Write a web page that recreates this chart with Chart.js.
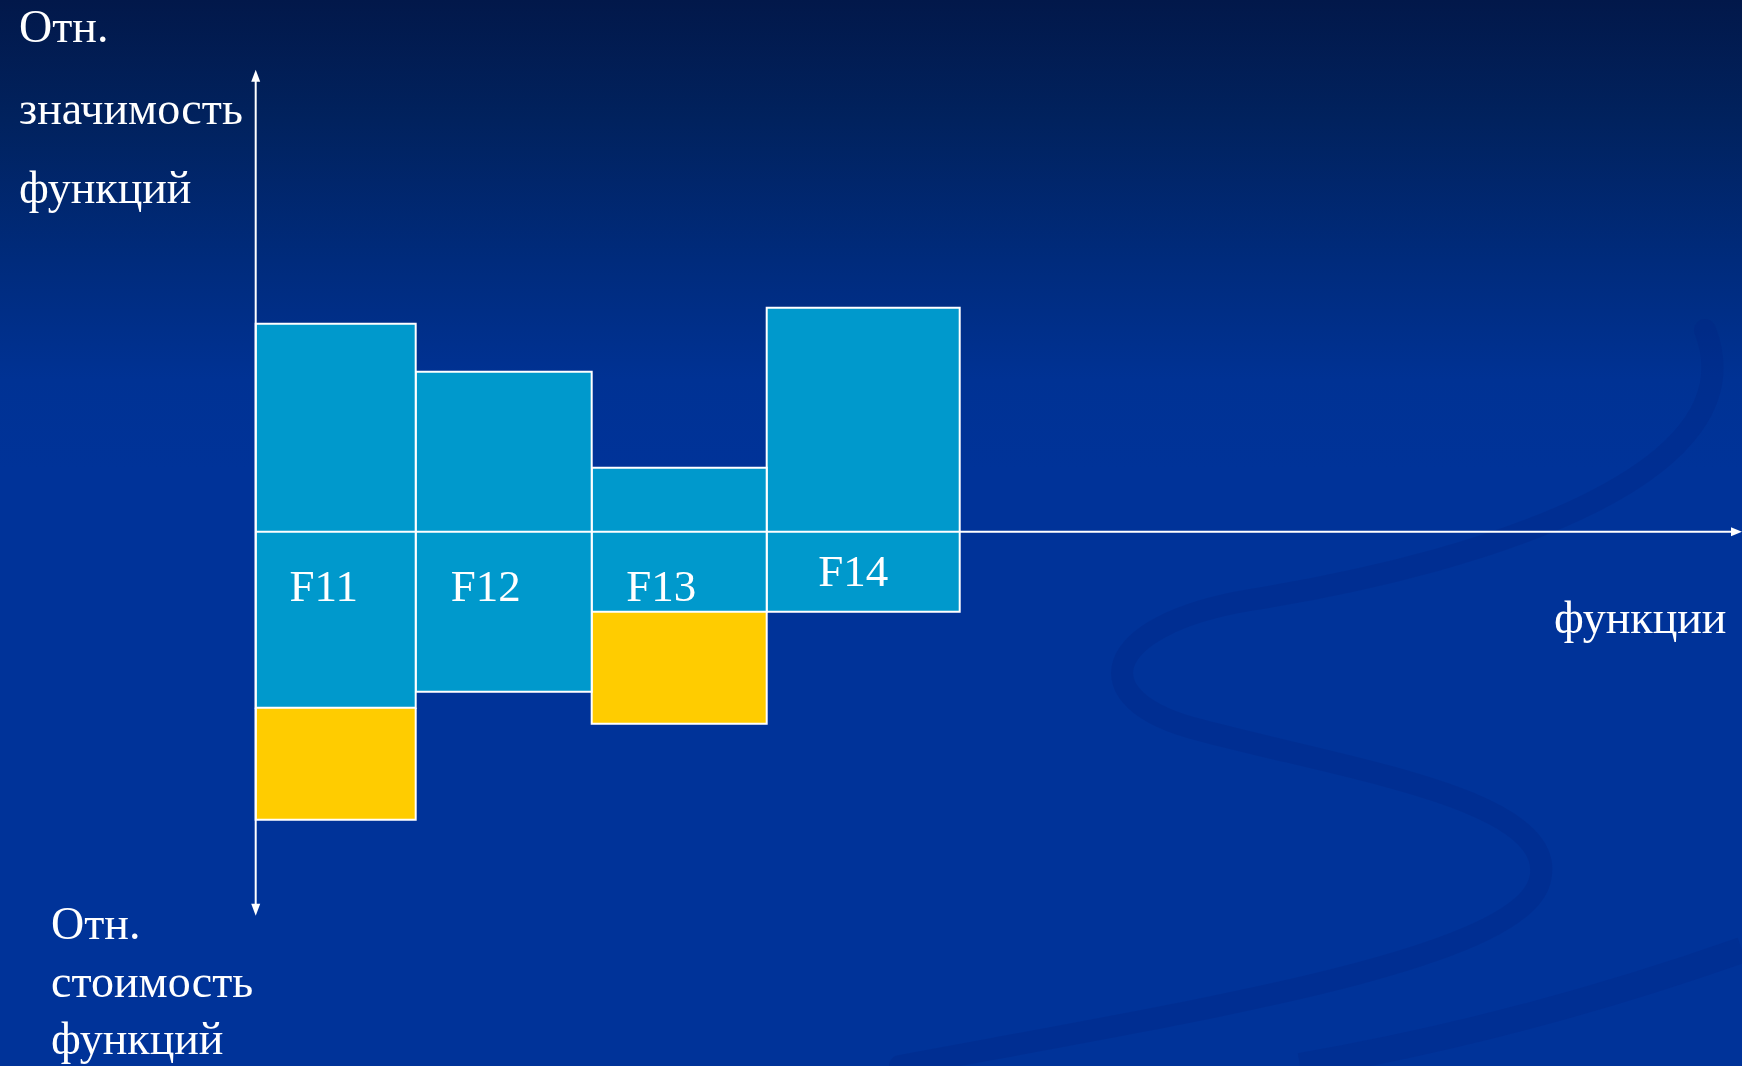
<!DOCTYPE html>
<html lang="ru">
<head>
<meta charset="utf-8">
<title>Функционально-стоимостная диаграмма</title>
<script src="https://cdn.jsdelivr.net/npm/chart.js@4.4.1/dist/chart.umd.min.js"></script>
<style>
  html, body { margin: 0; padding: 0; }
  body {
    width: 1742px; height: 1066px; overflow: hidden; position: relative;
    background: linear-gradient(to bottom, #02184a 0px, #01225e 120px, #002b7c 260px, #003294 380px, #003399 470px, #003399 1066px);
    font-family: "Liberation Serif", "DejaVu Serif", serif;
  }
  #swoosh { position: absolute; left: 0; top: 0; }
  #chart { position: absolute; left: 0; top: 0; }
  .lbl {
    position: absolute; color: #ffffff; font-size: 46px; line-height: 46px;
    white-space: nowrap; font-family: "Liberation Serif", "DejaVu Serif", serif;
  }
</style>
</head>
<body>
<svg id="swoosh" width="1742" height="1066" viewBox="0 0 1742 1066">
  <path d="M1705,330 C1760,470 1500,560 1250,600 C1100,625 1080,700 1200,730 C1350,770 1560,800 1540,880 C1520,960 1200,1010 900,1066"
        fill="none" stroke="rgba(0,35,130,0.28)" stroke-width="22" stroke-linecap="round"/>
  <path d="M1742,950 C1600,1000 1450,1040 1300,1066" fill="none" stroke="rgba(0,35,130,0.25)" stroke-width="26"/>
</svg>
<canvas id="chart" width="1742" height="1066"></canvas>

<div class="lbl" id="t1" style="left:19px; top:4px;">Отн.</div>
<div class="lbl" id="t2" style="left:19px; top:86px;">значимость</div>
<div class="lbl" id="t3" style="left:19px; top:165px;">функций</div>
<div class="lbl" id="b1" style="left:51px; top:901px;">Отн.</div>
<div class="lbl" id="b2" style="left:51px; top:959px;">стоимость</div>
<div class="lbl" id="b3" style="left:51px; top:1016px;">функций</div>
<div class="lbl" id="fx" style="left:1554px; top:595px;">функции</div>

<script>
// ---- data ----
const categories   = ['F11', 'F12', 'F13', 'F14'];
const widths       = [16.0, 17.6, 17.5, 19.3];   // relative width of each function block
const significance = [10.4, 8.0, 3.2, 11.2];     // relative significance (above axis)
const costCovered  = [8.8, 8.0, 4.0, 4.0];       // relative cost, blue part (below axis)
const costExcess   = [5.6, 0.0, 5.6, 0.0];       // excess cost, yellow part

// ---- styling / layout (not data) ----
const BLUE = '#0099cc';
const YELLOW = '#ffcc00';
const X_MIN = -25.57, X_MAX = 148.63;
const Y_MIN = -26.71, Y_MAX = 26.59;
const Y_AXIS_TOP = 23.1, Y_AXIS_BOTTOM = -19.2;
const labelDx = [-12, -18, -18, -10];   // px offset of label from block centre
const labelDy = [69, 69, 69, 54];       // px below axis to label baseline

// cumulative starts
const starts = [];
widths.reduce((acc, w, i) => { starts[i] = acc; return acc + w; }, 0);

function rect(x0, x1, base, edge) {
  return [{x: x0, y: base}, {x: x0, y: edge}, {x: x1, y: edge}, {x: x1, y: base}];
}

const datasets = [];
categories.forEach((c, i) => {
  const x0 = starts[i], x1 = starts[i] + widths[i];
  datasets.push({
    label: c + ' значимость', data: rect(x0, x1, 0, significance[i]),
    backgroundColor: BLUE, fill: 'origin'
  });
  datasets.push({
    label: c + ' стоимость', data: rect(x0, x1, 0, -costCovered[i]),
    backgroundColor: BLUE, fill: 'origin'
  });
  if (costExcess[i] > 0) {
    datasets.push({
      label: c + ' перерасход', data: rect(x0, x1, -costCovered[i], -costCovered[i] - costExcess[i]),
      backgroundColor: YELLOW, fill: {value: -costCovered[i]}
    });
  }
});
datasets.forEach(d => {
  d.showLine = true; d.borderColor = '#ffffff'; d.borderWidth = 2;
  d.pointRadius = 0; d.pointHoverRadius = 0; d.tension = 0;
});

const axesPlugin = {
  id: 'axesPlugin',
  afterDatasetsDraw(chart) {
    const {ctx, chartArea} = chart;
    const xs = chart.scales.x, ys = chart.scales.y;
    const x0 = xs.getPixelForValue(0), y0 = ys.getPixelForValue(0);
    const yTop = ys.getPixelForValue(Y_AXIS_TOP), yBot = ys.getPixelForValue(Y_AXIS_BOTTOM);
    const xEnd = chartArea.right;
    ctx.save();
    ctx.strokeStyle = '#ffffff'; ctx.fillStyle = '#ffffff'; ctx.lineWidth = 2;
    // x axis
    ctx.beginPath(); ctx.moveTo(x0, y0); ctx.lineTo(xEnd - 8, y0); ctx.stroke();
    ctx.beginPath(); ctx.moveTo(xEnd, y0); ctx.lineTo(xEnd - 11, y0 - 4.5); ctx.lineTo(xEnd - 11, y0 + 4.5); ctx.closePath(); ctx.fill();
    // y axis
    ctx.beginPath(); ctx.moveTo(x0, yTop + 8); ctx.lineTo(x0, yBot - 8); ctx.stroke();
    ctx.beginPath(); ctx.moveTo(x0, yTop); ctx.lineTo(x0 - 4.5, yTop + 12); ctx.lineTo(x0 + 4.5, yTop + 12); ctx.closePath(); ctx.fill();
    ctx.beginPath(); ctx.moveTo(x0, yBot); ctx.lineTo(x0 - 4.5, yBot - 12); ctx.lineTo(x0 + 4.5, yBot - 12); ctx.closePath(); ctx.fill();
    // category labels
    ctx.font = '45px "Liberation Serif", "DejaVu Serif", serif';
    ctx.textAlign = 'center'; ctx.textBaseline = 'alphabetic';
    categories.forEach((c, i) => {
      const cx = xs.getPixelForValue(starts[i] + widths[i] / 2) + labelDx[i];
      ctx.fillText(c, cx, y0 + labelDy[i]);
    });
    ctx.restore();
  }
};

new Chart(document.getElementById('chart'), {
  type: 'scatter',
  data: { datasets },
  options: {
    responsive: false,
    animation: false,
    devicePixelRatio: 1,
    layout: { padding: 0 },
    plugins: { legend: { display: false }, tooltip: { enabled: false }, title: { display: false } },
    events: [],
    scales: {
      x: { type: 'linear', min: X_MIN, max: X_MAX, display: false },
      y: { type: 'linear', min: Y_MIN, max: Y_MAX, display: false }
    }
  },
  plugins: [axesPlugin]
});
</script>
</body>
</html>
